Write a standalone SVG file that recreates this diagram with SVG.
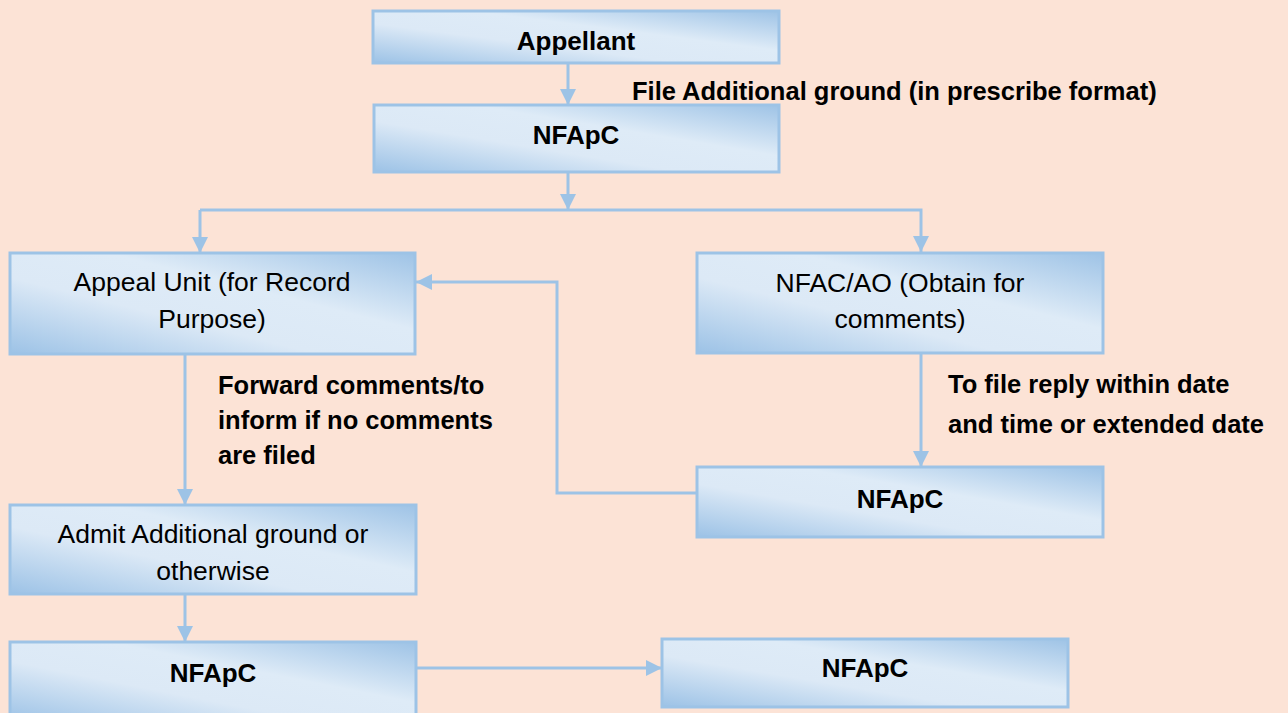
<svg xmlns="http://www.w3.org/2000/svg" width="1288" height="713" viewBox="0 0 1288 713">
<defs>
<linearGradient id="g" x1="0" y1="1" x2="1" y2="0">
<stop offset="0" stop-color="#9CC2E6"/>
<stop offset="0.38" stop-color="#DCE9F6"/>
<stop offset="0.62" stop-color="#DEEBF7"/>
<stop offset="1" stop-color="#9EC3E6"/>
</linearGradient>
<marker id="ah" viewBox="0 0 16 16" refX="16" refY="8" markerWidth="16" markerHeight="16" markerUnits="userSpaceOnUse" orient="auto">
<path d="M0,0 L16,8 L0,16 Z" fill="#9DC3E6"/>
</marker>
<style>
.box{fill:url(#g);stroke:#9DC3E6;stroke-width:3}
.t{font-family:"Liberation Sans",Arial,sans-serif;font-size:26.5px;fill:#000;text-anchor:middle}
.b{font-weight:bold;font-size:26px}
.lbl{font-family:"Liberation Sans",Arial,sans-serif;font-size:25.5px;font-weight:bold;fill:#000}
.c{fill:none;stroke:#9DC3E6;stroke-width:3}
</style>
</defs>
<rect width="1288" height="713" fill="#FCE3D6"/>
<g id="connectors">
<path class="c" d="M568,63 V105" marker-end="url(#ah)"/>
<path class="c" d="M568,158 V210" marker-end="url(#ah)"/>
<path class="c" d="M200,210 H921 V252" marker-end="url(#ah)"/>
<path class="c" d="M200,210 V253" marker-end="url(#ah)"/>
<path class="c" d="M921,343 V467" marker-end="url(#ah)"/>
<path class="c" d="M697,493 H557 V282 H416" marker-end="url(#ah)"/>
<path class="c" d="M185,343 V505" marker-end="url(#ah)"/>
<path class="c" d="M185,594 V642" marker-end="url(#ah)"/>
<path class="c" d="M416,668 H662" marker-end="url(#ah)"/>
</g>
<g id="appellant">
<rect class="box" x="373" y="11" width="406" height="52"/>
<text class="t b" x="576" y="50">Appellant</text>
</g>
<g id="nfapc1">
<rect class="box" x="374" y="105" width="405" height="67"/>
<text class="t b" x="576" y="144">NFApC</text>
</g>
<text class="lbl" x="632" y="100">File Additional ground (in prescribe format)</text>
<g id="appeal-unit">
<rect class="box" x="10" y="253" width="405" height="101"/>
<text class="t" x="212" y="291">Appeal Unit (for Record</text>
<text class="t" x="212" y="328">Purpose)</text>
</g>
<g id="nfac-ao">
<rect class="box" x="697" y="253" width="406" height="100"/>
<text class="t" x="900" y="292">NFAC/AO (Obtain for</text>
<text class="t" x="900" y="328">comments)</text>
</g>
<text class="lbl" x="218" y="394">Forward comments/to</text>
<text class="lbl" x="218" y="429">inform if no comments</text>
<text class="lbl" x="218" y="464">are filed</text>
<text class="lbl" x="948" y="393">To file reply within date</text>
<text class="lbl" x="948" y="433">and time or extended date</text>
<g id="nfapc2">
<rect class="box" x="697" y="467" width="406" height="70"/>
<text class="t b" x="900" y="508">NFApC</text>
</g>
<g id="admit">
<rect class="box" x="10" y="505" width="406" height="89"/>
<text class="t" x="213" y="543">Admit Additional ground or</text>
<text class="t" x="213" y="580">otherwise</text>
</g>
<g id="nfapc3">
<rect class="box" x="10" y="642" width="406" height="80"/>
<text class="t b" x="213" y="682">NFApC</text>
</g>
<g id="nfapc4">
<rect class="box" x="662" y="639" width="406" height="68"/>
<text class="t b" x="865" y="677">NFApC</text>
</g>
</svg>
